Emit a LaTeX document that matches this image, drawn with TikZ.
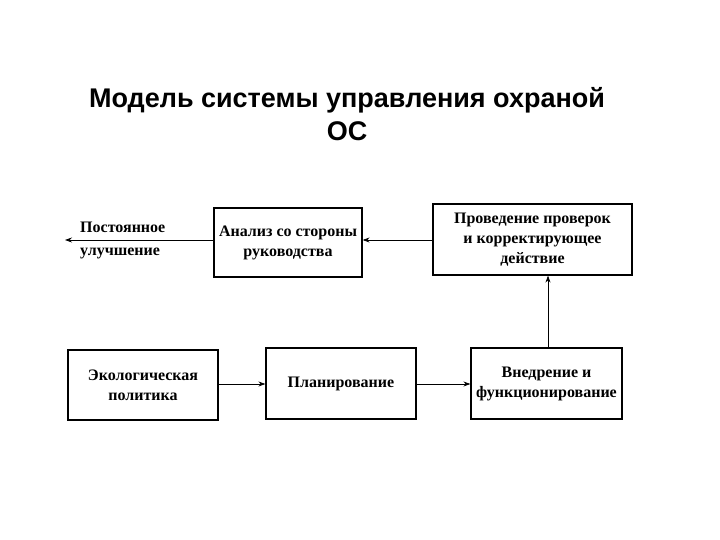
\documentclass[tikz,border=0pt]{standalone}
\usepackage{fontspec}
\setmainfont{Liberation Serif}
\newfontfamily\titlefont{Liberation Sans}
\usetikzlibrary{arrows.meta}
\begin{document}
\begin{tikzpicture}[x=1pt,y=-1pt,
  boxnode/.style={draw,line width=1.2pt,inner sep=0pt,align=center,font=\fontsize{16}{20}\selectfont\bfseries},
  lbl/.style={font=\fontsize{16}{20}\selectfont\bfseries,anchor=base west,inner sep=0pt},
  conn/.style={line width=0.8pt,-{Stealth[length=7pt,width=5pt]}}]
\useasboundingbox (0,0) rectangle (720,540);
\node[font=\titlefont\fontsize{27}{33}\selectfont\bfseries,align=center] (title) at (347,114) {Модель системы управления охраной\\ОС};
\node[boxnode,minimum width=148pt,minimum height=69pt] (analiz) at (288,242.5) {Анализ со стороны\\руководства};
\node[boxnode,minimum width=199pt,minimum height=71pt] (prov) at (532.5,239.5) {Проведение проверок\\и корректирующее\\действие};
\node[boxnode,minimum width=150pt,minimum height=70pt] (eko) at (143,385) {Экологическая\\политика};
\node[boxnode,minimum width=150pt,minimum height=71pt] (plan) at (341,383.5) {Планирование};
\node[boxnode,minimum width=151pt,minimum height=71pt] (vned) at (546.5,383.5) {Внедрение и\\функционирование};
\coordinate (left) at (65,240);
\node[lbl] (post) at (80,233) {Постоянное};
\node[lbl] (ulu) at (80,255) {улучшение};
\draw[conn] (prov.west |- 0,240) -- (analiz.east |- 0,240);
\draw[conn] (analiz.west |- 0,240) -- (left);
\draw[conn] (eko.east |- 0,384) -- (plan.west |- 0,384);
\draw[conn] (plan.east |- 0,384) -- (vned.west |- 0,384);
\draw[conn] (vned.north -| 548,0) -- (prov.south -| 548,0);
\end{tikzpicture}
\end{document}
